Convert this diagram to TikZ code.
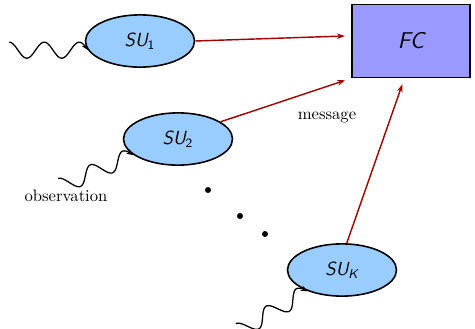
\documentclass[tikz,border=0pt]{standalone}
\usetikzlibrary{shapes.geometric,arrows.meta}
\definecolor{sublue}{RGB}{153,204,255}
\definecolor{fclav}{RGB}{153,153,255}
\definecolor{msgred}{RGB}{165,0,0}
\begin{document}
\begin{tikzpicture}[x=0.0222cm, y=-0.0222cm,
    su/.style={ellipse, draw, line width=1pt, fill=sublue,
      minimum width=2.42cm, minimum height=1.16cm, font=\large\sffamily\itshape},
    fcbox/.style={rectangle, draw, line width=1pt, fill=fclav,
      minimum width=2.62cm, minimum height=1.62cm, font=\Large\sffamily\itshape},
    msg/.style={-{Stealth[length=5pt, width=3.5pt]}, msgred, line width=0.9pt, shorten >=4pt},
    obs/.style={-{Stealth[length=4.5pt, width=3.5pt]}, line width=0.8pt},
    lbl/.style={font=\fontsize{10.5}{12}\selectfont}]
  \useasboundingbox (0,0) rectangle (475,328);
  % sensing units and fusion center
  \node[su] (su1) at (140,41) {SU\textsubscript{\upshape 1}};
  \node[su] (su2) at (178,139) {SU\textsubscript{\upshape 2}};
  \node[su] (suk) at (342,270) {SU\textsubscript{K}};
  \node[fcbox] (fc) at (411,41) {FC};
  % observations, drawn back from the unit they reach
  \foreach \unit/\ang/\rot in {su1/190/0, su2/200/23, suk/212/30}
    \draw[obs, shift={(\unit.\ang)}, rotate=\rot]
      plot[domain=-2.25:0, samples=80] ({35*\x}, {8*sin(360*\x)});
  % messages
  \draw[msg] (su1.east) -- (fc.175);
  \draw[msg] (su2.22) -- (fc.south west);
  \draw[msg] (suk.80) -- (fc.-100);
  \node[lbl] (lmsg) at (327,117) {message};
  \node[lbl] (lobs) at (66,196) {observation};
  % dots
  \fill (208,190) circle (3);
  \fill (240,216) circle (3);
  \fill (265,234) circle (3);
\end{tikzpicture}
\end{document}
